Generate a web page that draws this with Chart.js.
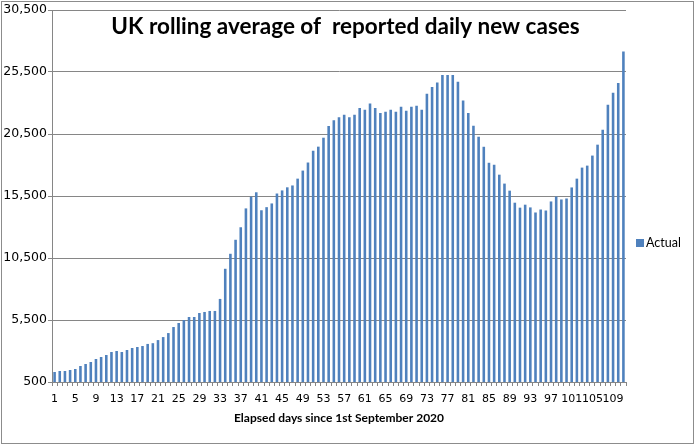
<!DOCTYPE html>
<html>
<head>
<meta charset="utf-8">
<script src="https://cdn.jsdelivr.net/npm/chart.js@4.4.1/dist/chart.umd.min.js"></script>
<style>
  html, body { margin: 0; padding: 0; background: #fff; }
  #chart { display: block; }
</style>
</head>
<body>
<canvas id="chart" width="696" height="445"></canvas>
<script>
// Elapsed days since 1st September 2020
const days = [
    1, 2, 3, 4, 5, 6, 7, 8, 9, 10, 11, 12, 13, 14, 15, 16, 17, 18, 19, 20,
    21, 22, 23, 24, 25, 26, 27, 28, 29, 30, 31, 32, 33, 34, 35, 36, 37, 38, 39, 40,
    41, 42, 43, 44, 45, 46, 47, 48, 49, 50, 51, 52, 53, 54, 55, 56, 57, 58, 59, 60,
    61, 62, 63, 64, 65, 66, 67, 68, 69, 70, 71, 72, 73, 74, 75, 76, 77, 78, 79, 80,
    81, 82, 83, 84, 85, 86, 87, 88, 89, 90, 91, 92, 93, 94, 95, 96, 97, 98, 99, 100,
    101, 102, 103, 104, 105, 106, 107, 108, 109, 110, 111
];

// Rolling average of reported daily new cases
const actual = [
    1306, 1387, 1387, 1467, 1548, 1790, 1951, 2112, 2354, 2515,
    2676, 2918, 2999, 2918, 3079, 3240, 3321, 3401, 3570, 3630,
    3880, 4123, 4447, 4933, 5257, 5500, 5743, 5743, 6067, 6148,
    6229, 6229, 7200, 9630, 10840, 11970, 12980, 14500, 15450, 15800,
    14350, 14600, 14900, 15700, 15950, 16200, 16350, 16900, 17550, 18200,
    19150, 19480, 20200, 21150, 21600, 21850, 22050, 21850, 22050, 22600,
    22450, 22950, 22600, 22200, 22300, 22450, 22300, 22700, 22380, 22700,
    22780, 22450, 23750, 24300, 24650, 25250, 25250, 25250, 24720, 23200,
    22200, 21160, 20280, 19470, 18180, 18020, 17220, 16500, 15930, 14960,
    14560, 14800, 14580, 14170, 14410, 14330, 15060, 15460, 15220, 15300,
    16190, 16900, 17790, 17950, 18760, 19640, 20850, 22860, 23820, 24620,
    27150
];

// y axis runs 500 .. 30,500 in steps of 5,000
const yMin = 500;
const yMax = 30500;
const yStep = 5000;

const chartTitle = 'UK rolling average of  reported daily new cases';
const xTitle = 'Elapsed days since 1st September 2020';
const seriesName = 'Actual';
const barColor = '#4F81BD';
const gridColor = '#868686';

// Draws the title inside the plot, the legend and the outer frame, like Excel does
const excelBits = {
    id: 'excelBits',
    afterDraw(chart) {
        const ctx = chart.ctx;
        ctx.save();
        ctx.strokeStyle = '#8c8c8c';
        ctx.lineWidth = 1;
        ctx.strokeRect(1.5, 1.5, 692, 442);

        ctx.fillStyle = '#000';
        ctx.font = 'bold 22.5px Lato';
        ctx.textAlign = 'center';
        ctx.textBaseline = 'alphabetic';
        ctx.fillText(chartTitle, 345.5, 34);

        ctx.fillStyle = barColor;
        ctx.fillRect(636, 239, 8, 8);
        ctx.fillStyle = '#000';
        ctx.font = '12.5px Lato';
        ctx.textAlign = 'left';
        ctx.textBaseline = 'middle';
        ctx.fillText(seriesName, 646, 243);
        ctx.restore();
    }
};

let ctx = document.getElementById('chart').getContext('2d');
let myChart = new Chart(ctx, {
    type: 'bar',
    data: {
        labels: days,
        datasets: [{
            label: seriesName,
            data: actual,
            backgroundColor: barColor,
            borderWidth: 0,
            categoryPercentage: 1.0,
            barPercentage: 0.5
        }]
    },
    options: {
        responsive: false,
        animation: false,
        layout: {
            padding: { top: 10, right: 70, left: 0, bottom: 0 }
        },
        plugins: {
            legend: { display: false },
            tooltip: { enabled: false }
        },
        scales: {
            x: {
                afterFit: function(scale) { scale.height = 63; },
                grid: {
                    display: true,
                    drawOnChartArea: false,
                    drawTicks: true,
                    tickLength: 4,
                    color: gridColor,
                    offset: true
                },
                border: { color: gridColor },
                ticks: {
                    autoSkip: false,
                    maxRotation: 0,
                    minRotation: 0,
                    padding: 7,
                    color: '#000',
                    font: { family: 'DejaVu Sans', size: 11 },
                    callback: function(value, index) {
                        return index % 4 === 0 ? String(days[index]) : '';
                    }
                },
                title: {
                    display: true,
                    text: xTitle,
                    color: '#000',
                    font: { family: 'Lato', size: 12, weight: 'bold' },
                    padding: { top: 0, bottom: 20 }
                }
            },
            y: {
                min: yMin,
                max: yMax,
                afterFit: function(scale) { scale.width = 52; },
                grid: {
                    color: gridColor,
                    tickLength: 4,
                    drawTicks: true
                },
                border: { color: gridColor },
                ticks: {
                    stepSize: yStep,
                    padding: 1,
                    color: '#000',
                    font: { family: 'DejaVu Sans', size: 12.5 },
                    callback: function(value) {
                        return Number(value).toLocaleString('en-US');
                    }
                }
            }
        }
    },
    plugins: [excelBits]
});
</script>
</body>
</html>
